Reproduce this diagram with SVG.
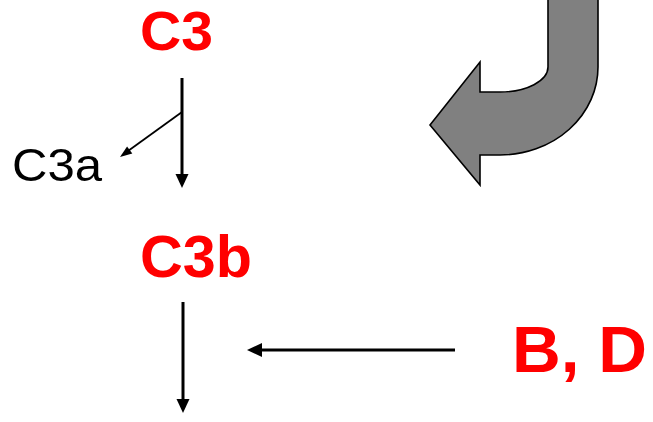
<svg xmlns="http://www.w3.org/2000/svg" width="653" height="422" viewBox="0 0 653 422">
  <style>
    .red { fill: #ff0000; font-family: "Liberation Sans", Arial, sans-serif; font-weight: bold; }
    .blk { fill: #000; font-family: "Liberation Sans", Arial, sans-serif; }
    .line { stroke: #000; stroke-width: 3; fill: none; }
    .thin { stroke: #000; stroke-width: 1.8; fill: none; }
    .head { fill: #000; }
  </style>
  <rect width="653" height="422" fill="#fff"/>

  <!-- big curved arrow -->
  <g id="curved-arrow">
    <path d="M548,-5 L548,67 A48,25 0 0 1 500,92 L480,92 L480,62 L430,125 L480,185 L480,155 L500,155 A98,88 0 0 0 598,67 L598,-5 Z"
          fill="#808080" stroke="#000" stroke-width="1.6" stroke-linejoin="miter"/>
  </g>

  <g id="node-c3">
    <text class="red" x="140" y="50" font-size="55" textLength="73" lengthAdjust="spacingAndGlyphs">C3</text>
  </g>
  <g id="node-c3a">
    <text class="blk" x="12" y="181" font-size="47" textLength="90" lengthAdjust="spacingAndGlyphs">C3a</text>
  </g>
  <g id="node-c3b">
    <text class="red" x="140" y="277" font-size="60" textLength="112" lengthAdjust="spacingAndGlyphs">C3b</text>
  </g>
  <g id="node-bd">
    <text class="red" x="512" y="372" font-size="64" textLength="135" lengthAdjust="spacingAndGlyphs">B, D</text>
  </g>

  <g id="connectors">
    <line class="line" x1="182" y1="78" x2="182" y2="176"/>
    <polygon class="head" points="175.5,174 188.5,174 182,188"/>
    <line class="thin" x1="182" y1="112" x2="128" y2="151"/>
    <polygon class="head" points="132.3,153.6 127.1,146.4 120,157"/>
    <line class="line" x1="183" y1="302" x2="183" y2="401"/>
    <polygon class="head" points="176.5,399 189.5,399 183,413"/>
    <line class="line" x1="455" y1="350" x2="259" y2="350"/>
    <polygon class="head" points="262,343 262,357 247,350"/>
  </g>
</svg>
